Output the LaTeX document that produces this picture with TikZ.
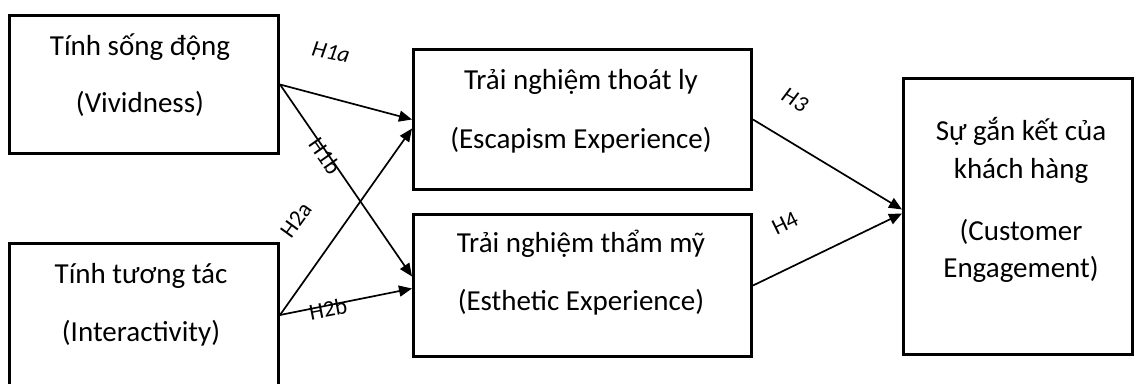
\documentclass[tikz,border=0pt]{standalone}
\usepackage{fontspec}
\setmainfont{Carlito}
\usetikzlibrary{arrows.meta,calc}
\begin{document}
\begin{tikzpicture}[x=1pt,y=-1pt,
  box/.style={draw,line width=3pt,rectangle,inner sep=0pt},
  txt/.style={anchor=base,inner sep=0pt,font=\fontsize{29}{35}\selectfont},
  hyp/.style={inner sep=0pt,font=\fontsize{23}{27}\selectfont},
  link/.style={line width=1.7pt,-{Triangle[length=13pt,width=11pt]}}]
\useasboundingbox (0,0) rectangle (1135,383);
\clip (0,0) rectangle (1135,383);

% boxes
\node[box,anchor=north west,minimum width=269pt,minimum height=138pt] (viv) at (8,14) {};
\node[box,anchor=north west,minimum width=269pt,minimum height=143pt] (int) at (8,242) {};
\node[box,anchor=north west,minimum width=338pt,minimum height=140pt] (esc) at (412,48) {};
\node[box,anchor=north west,minimum width=338pt,minimum height=142pt] (est) at (412,213) {};
\node[box,anchor=north west,minimum width=229pt,minimum height=276pt] (eng) at (902,77) {};

% box texts
\node[txt] (viv1) at (140,55) {Tính sống động};
\node[txt] (viv2) at (140,112) {(Vividness)};
\node[txt] (int1) at (141,283) {Tính tương tác};
\node[txt] (int2) at (141,341) {(Interactivity)};
\node[txt] (esc1) at (581,89) {Trải nghiệm thoát ly};
\node[txt] (esc2) at (581,148) {(Escapism Experience)};
\node[txt] (est1) at (581,252) {Trải nghiệm thẩm mỹ};
\node[txt] (est2) at (581,310) {(Esthetic Experience)};
\node[txt] (eng1) at (1021,140) {Sự gắn kết của};
\node[txt] (eng2) at (1021,178) {khách hàng};
\node[txt] (eng3) at (1021,240) {(Customer};
\node[txt] (eng4) at (1021,277) {Engagement)};

% end points on the box sides
\coordinate (escA) at ($(esc.west)+(0,0)$);
\coordinate (escB) at ($(esc.west)+(0,9)$);
\coordinate (estA) at ($(est.west)+(0,-9)$);
\coordinate (estB) at ($(est.west)+(0,3)$);
\coordinate (engA) at ($(eng.west)+(0,-7)$);
\coordinate (engB) at ($(eng.west)+(0,-3)$);

% paths
\draw[link] (viv.east) -- (escA);
\draw[link] (viv.east) -- (estA);
\draw[link] (int.east) -- (escB);
\draw[link] (int.east) -- (estB);
\draw[link] (esc.east) -- (engA);
\draw[link] (est.east) -- (engB);

% hypothesis labels
\node[hyp,font=\fontsize{23}{27}\selectfont\itshape,rotate=-12] (h1a) at (331,52) {H1a};
\node[hyp,rotate=-55] (h1b) at (325,156) {H1b};
\node[hyp,rotate=54] (h2a) at (296,220) {H2a};
\node[hyp,rotate=11] (h2b) at (328,309) {H2b};
\node[hyp,font=\fontsize{23}{27}\selectfont\itshape,rotate=-30] (h3) at (795,100) {H3};
\node[hyp,rotate=26] (h4) at (785,223) {H4};
\end{tikzpicture}
\end{document}
